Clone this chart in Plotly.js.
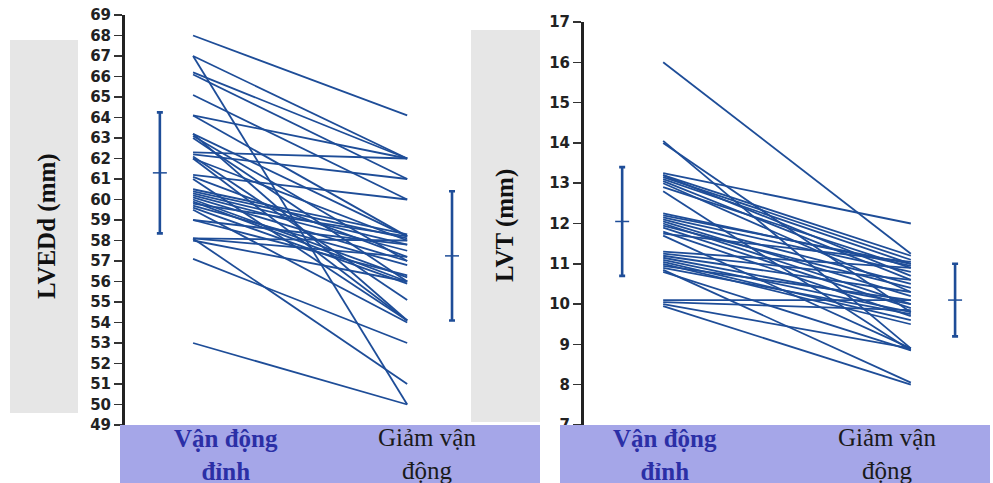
<!DOCTYPE html>
<html>
<head>
<meta charset="utf-8">
<script src="https://cdn.plot.ly/plotly-3.0.1.min.js"></script>
<style>html,body{margin:0;padding:0;background:#fff;}#chart{width:993px;height:483px;}</style>
</head>
<body>
<div id="chart"></div>
<script>
// ---------- DATA ----------
const groupLabels = ["Vận động đỉnh", "Giảm vận động"];
const lveddTicks = [49,50,51,52,53,54,55,56,57,58,59,60,61,62,63,64,65,66,67,68,69];
const lvtTicks = [7,8,9,10,11,12,13,14,15,16,17];

// LVEDd (mm): peak exercise -> reduced exercise, one pair per subject
const lveddPeak    = [68.0,67.0,67.0,66.2,66.1,65.1,64.1,64.1,63.2,63.1,63.0,62.3,62.2,62.0,62.0,61.2,61.1,61.0,60.5,60.4,60.3,60.2,60.1,60.0,59.9,59.8,59.7,59.6,59.5,59.0,59.0,58.1,58.1,58.0,58.1,57.1,53.0,62.1,63.2];
const lveddReduced = [64.1,62.0,50.0,62.0,61.0,60.0,62.0,58.2,58.2,57.0,56.0,62.0,61.0,58.0,54.1,60.0,57.2,54.1,58.3,58.1,57.8,57.5,57.0,56.2,56.0,58.2,56.8,55.9,54.0,57.8,56.3,57.2,58.0,56.0,51.0,53.0,50.0,55.1,54.1];
const lveddMean = [61.3, 57.25];
const lveddSD   = [2.95, 3.15];

// LVT (mm)
const lvtPeak    = [16.0,14.05,14.0,13.25,13.2,13.15,13.1,13.05,13.0,12.9,12.8,12.2,12.15,12.1,12.05,12.0,11.95,11.9,11.8,11.75,11.7,11.3,11.25,11.2,11.15,11.1,11.05,11.0,10.95,10.9,10.85,10.8,10.1,10.05,10.0,9.95,12.25,13.2];
const lvtReduced = [11.25,8.9,9.8,12.0,11.2,11.1,11.0,10.6,10.3,10.9,8.85,11.0,10.8,10.5,10.2,10.0,10.4,9.9,9.7,11.05,8.9,10.9,10.6,10.3,10.0,9.8,9.6,9.5,10.1,9.75,8.05,8.85,10.1,9.85,8.9,8.0,10.95,10.7];
const lvtMean = [12.05, 10.1];
const lvtSD   = [1.35, 0.9];

// ---------- LAYOUT HELPERS ----------
const W = 993, H = 483;
const px = v => v / W;
const py = v => 1 - v / H;
const lineColor = "#1e4d98";

// horizontal positions within each panel's x range [0,1]
const posL = {errA: 0.084, a: 0.164, b: 0.68, errB: 0.788};
const posR = {errA: 0.094, a: 0.195, b: 0.805, errB: 0.914};

function pairTrace(a, b, pos, xa, ya) {
  const x = [], y = [];
  for (let i = 0; i < a.length; i++) {
    x.push(pos.a, pos.b, null);
    y.push(a[i], b[i], null);
  }
  return {type: "scatter", mode: "lines", x, y, xaxis: xa, yaxis: ya,
    line: {color: lineColor, width: 1.8}, hoverinfo: "skip", showlegend: false};
}
function errTrace(mean, sd, pos, xa, ya) {
  return {type: "scatter", mode: "markers", x: [pos.errA, pos.errB], y: mean,
    xaxis: xa, yaxis: ya, showlegend: false,
    marker: {symbol: "line-ew", size: 10, color: lineColor, line: {color: lineColor, width: 1.5}},
    error_y: {type: "data", array: sd, visible: true, color: lineColor, thickness: 2.6, width: 3}};
}

const data = [
  pairTrace(lveddPeak, lveddReduced, posL, "x", "y"),
  errTrace(lveddMean, lveddSD, posL, "x", "y"),
  pairTrace(lvtPeak, lvtReduced, posR, "x2", "y2"),
  errTrace(lvtMean, lvtSD, posR, "x2", "y2")
];

const tickFont = {family: "DejaVu Sans, Liberation Sans, Arial", size: 15, color: "#222", weight: "bold"};
const yCommon = {showgrid: false, zeroline: false, showline: true, linecolor: "#222", linewidth: 3,
  ticks: "outside", ticklen: 8, tickwidth: 1.5, tickcolor: "#333", tickfont: tickFont, fixedrange: true};

const purple = "#a5a6e8";
const gray = "#e6e6e6";
const shapes = [
  {type: "rect", xref: "paper", yref: "paper", x0: px(10), x1: px(78), y0: py(413), y1: py(40), fillcolor: gray, line: {width: 0}, layer: "below"},
  {type: "rect", xref: "paper", yref: "paper", x0: px(471), x1: px(540), y0: py(422), y1: py(30), fillcolor: gray, line: {width: 0}, layer: "below"},
  {type: "rect", xref: "paper", yref: "paper", x0: px(120), x1: px(540), y0: py(483), y1: py(425), fillcolor: purple, line: {width: 0}, layer: "above"},
  {type: "rect", xref: "paper", yref: "paper", x0: px(560), x1: px(990), y0: py(483), y1: py(425), fillcolor: purple, line: {width: 0}, layer: "above"}
];

const blue = "#2b2fa6";
function wrap2(label) {
  const w = label.split(" ");
  return w.slice(0, 2).join(" ") + "<br>" + w.slice(2).join(" ");
}
function lab(text, x, y, color, bold) {
  return {text, xref: "paper", yref: "paper", x: px(x), y: py(y), xanchor: "center", yanchor: "middle",
    showarrow: false, align: "center",
    font: {family: "Liberation Serif, Times New Roman, serif", size: 25, color, weight: bold ? "bold" : "normal"}};
}

const annotations = [
  {text: "LVEDd (mm)", textangle: -90, xref: "paper", yref: "paper", x: px(47), y: py(226), xanchor: "center", yanchor: "middle", showarrow: false,
    font: {family: "Liberation Serif, Times New Roman, serif", size: 25, color: "#111", weight: "bold"}},
  {text: "LVT (mm)", textangle: -90, xref: "paper", yref: "paper", x: px(505), y: py(226), xanchor: "center", yanchor: "middle", showarrow: false,
    font: {family: "Liberation Serif, Times New Roman, serif", size: 25, color: "#111", weight: "bold"}},
  lab(wrap2(groupLabels[0]), 226, 455, blue, true),
  lab(wrap2(groupLabels[1]), 427, 454, "#1a1a1a", false),
  lab(wrap2(groupLabels[0]), 665, 455, blue, true),
  lab(wrap2(groupLabels[1]), 887, 454, "#1a1a1a", false)
];

const layout = {
  width: W, height: H, margin: {l: 0, r: 0, t: 0, b: 0}, autosize: false,
  paper_bgcolor: "#ffffff", plot_bgcolor: "rgba(0,0,0,0)", showlegend: false,
  xaxis: {domain: [px(125), px(540)], range: [0, 1], visible: false, fixedrange: true},
  yaxis: Object.assign({}, yCommon, {domain: [py(425), py(15)], range: [49, 69], tickvals: lveddTicks, ticktext: lveddTicks.map(String)}),
  xaxis2: {domain: [px(584), px(990)], range: [0, 1], visible: false, anchor: "y2", fixedrange: true},
  yaxis2: Object.assign({}, yCommon, {domain: [py(425), py(22)], range: [7, 17], anchor: "x2", tickvals: lvtTicks, ticktext: lvtTicks.map(String)}),
  shapes, annotations
};

Plotly.newPlot("chart", data, layout, {staticPlot: true, displayModeBar: false});
</script>
</body>
</html>
